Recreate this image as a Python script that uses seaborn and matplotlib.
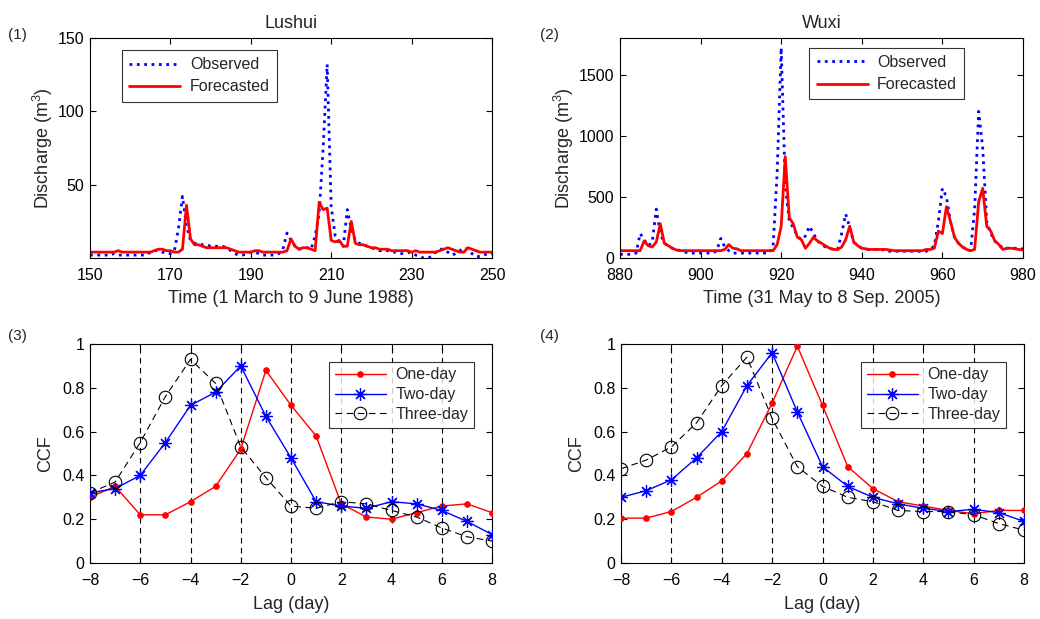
import numpy as np
import pandas as pd
import seaborn as sns
import matplotlib
matplotlib.use("Agg")
import matplotlib.pyplot as plt

# ---------------- data ----------------
lushui_days = list(range(150, 251))
lushui_obs = [2, 2, 2, 2, 2, 2, 3, 2, 2, 2,
              2, 2, 2, 2, 2, 4, 5, 5, 4, 3,
              3, 5, 20, 42, 22, 12, 10, 10, 9, 9,
              8, 8, 8, 8, 7, 5, 3, 2, 2, 3,
              4, 4, 3, 2, 2, 2, 2, 3, 6, 17,
              12, 8, 6, 7, 7, 6, 15, 30, 75, 132,
              35, 15, 10, 8, 33, 20, 12, 10, 9, 8,
              7, 6, 5, 5, 5, 4, 4, 3, 3, 4,
              3, 2, 1, 0, 0, 1, 4, 6, 6, 4,
              2, 3, 5, 7, 6, 3, 1, 1, 2, 3,
              3]
lushui_fc = [4, 4, 4, 4, 4, 4, 4, 5, 4, 4,
             4, 4, 4, 4, 4, 4, 5, 6, 6, 5,
             5, 4, 4, 6, 36, 13, 9, 9, 8, 7,
             7, 7, 7, 7, 7, 6, 5, 4, 4, 4,
             4, 5, 5, 4, 4, 4, 4, 4, 4, 5,
             13, 8, 6, 7, 7, 6, 5, 38, 33, 34,
             12, 11, 12, 8, 8, 25, 10, 9, 9, 8,
             7, 7, 6, 6, 6, 5, 5, 5, 5, 5,
             4, 5, 4, 4, 4, 4, 4, 5, 6, 7,
             6, 5, 4, 4, 7, 6, 5, 4, 4, 4,
             4]

wuxi_days = list(range(880, 981))
wuxi_obs = [30, 30, 30, 30, 40, 200, 150, 100, 130, 400,
            200, 120, 100, 80, 70, 60, 50, 40, 40, 40,
            40, 40, 40, 40, 60, 160, 90, 60, 40, 40,
            40, 40, 40, 40, 40, 40, 40, 40, 100, 700,
            1720, 600, 300, 250, 180, 150, 180, 260, 200, 140,
            110, 90, 80, 70, 70, 200, 360, 250, 130, 100,
            80, 70, 70, 70, 70, 70, 55, 55, 55, 55,
            55, 55, 55, 55, 55, 55, 55, 70, 100, 300,
            570, 500, 300, 170, 120, 90, 70, 60, 400, 1200,
            900, 300, 200, 140, 110, 80, 80, 80, 80, 75,
            75]
wuxi_fc = [60, 60, 60, 60, 60, 60, 140, 100, 90, 130,
           280, 120, 100, 80, 65, 60, 60, 60, 60, 60,
           60, 60, 60, 60, 60, 60, 70, 110, 80, 75,
           60, 60, 60, 60, 60, 60, 60, 60, 60, 110,
           260, 830, 330, 280, 170, 150, 80, 120, 170, 140,
           120, 100, 80, 70, 70, 90, 150, 260, 130, 100,
           80, 75, 70, 70, 70, 70, 70, 65, 60, 60,
           60, 60, 60, 60, 60, 60, 70, 70, 80, 220,
           200, 420, 300, 170, 120, 90, 70, 60, 70, 460,
           570, 260, 220, 140, 110, 70, 80, 80, 75, 70,
           65]

lags = list(range(-8, 9))
lushui_one = [0.30, 0.35, 0.22, 0.22, 0.28, 0.35, 0.52, 0.88, 0.72, 0.58,
              0.27, 0.21, 0.20, 0.23, 0.26, 0.27, 0.23]
lushui_two = [0.32, 0.34, 0.40, 0.55, 0.72, 0.78, 0.90, 0.67, 0.48, 0.28,
              0.26, 0.25, 0.28, 0.27, 0.24, 0.19, 0.13]
lushui_three = [0.32, 0.37, 0.55, 0.76, 0.93, 0.82, 0.53, 0.39, 0.26, 0.25,
                0.28, 0.27, 0.24, 0.21, 0.16, 0.12, 0.10]

wuxi_one = [0.205, 0.205, 0.235, 0.30, 0.375, 0.50, 0.73, 0.99, 0.72, 0.44,
            0.34, 0.28, 0.26, 0.24, 0.225, 0.24, 0.24]
wuxi_two = [0.30, 0.33, 0.38, 0.48, 0.60, 0.81, 0.96, 0.69, 0.44, 0.35,
            0.30, 0.27, 0.25, 0.235, 0.245, 0.23, 0.19]
wuxi_three = [0.43, 0.47, 0.53, 0.64, 0.81, 0.94, 0.66, 0.44, 0.35, 0.30,
              0.28, 0.24, 0.235, 0.235, 0.22, 0.18, 0.15]

vlines = [-6, -4, -2, 0, 2, 4, 6]

# ---------------- style ----------------
sns.set_style("ticks")
plt.rcParams['font.family'] = ['Liberation Sans', 'DejaVu Sans']
plt.rcParams['mathtext.fontset'] = 'custom'
plt.rcParams['mathtext.rm'] = 'Liberation Sans'
plt.rcParams['xtick.direction'] = 'in'
plt.rcParams['ytick.direction'] = 'in'
plt.rcParams['xtick.top'] = True
plt.rcParams['ytick.right'] = True

fig = plt.figure(figsize=(10.4, 6.19), dpi=100)
W, H = 1040, 619

def ax_at(l, t, r, b):
    return fig.add_axes([l / W, 1 - b / H, (r - l) / W, (b - t) / H])

ax1 = ax_at(90, 38, 492, 258)
ax2 = ax_at(620, 38, 1023, 258)
ax3 = ax_at(90, 344, 492, 563)
ax4 = ax_at(621, 344, 1024, 563)

tick_fs = 11.5
label_fs = 13

def style(ax):
    for s in ax.spines.values():
        s.set_linewidth(0.8)
        s.set_color('black')
    ax.tick_params(labelsize=tick_fs, length=4, width=0.8, colors='black')
    ax.tick_params(axis='x', pad=7)
    ax.tick_params(axis='y', pad=4)

# Discharge panels
for ax, days, obs, fc, title, xlab, ylim, yt, xt, loc in [
    (ax1, lushui_days, lushui_obs, lushui_fc, 'Lushui', 'Time (1 March to 9 June 1988)',
     (0, 150), [50, 100, 150], [150, 170, 190, 210, 230, 250], (0.06, 0.675)),
    (ax2, wuxi_days, wuxi_obs, wuxi_fc, 'Wuxi', 'Time (31 May to 8 Sep. 2005)',
     (0, 1800), [0, 500, 1000, 1500], [880, 900, 920, 940, 960, 980], (0.45, 0.685)),
]:
    df = pd.DataFrame({'day': days, 'obs': obs, 'fc': fc})
    sns.lineplot(data=df, x='day', y='obs', ax=ax, color='blue', linestyle=':',
                 linewidth=2.0, label='Observed')
    sns.lineplot(data=df, x='day', y='fc', ax=ax, color='red', linestyle='-',
                 linewidth=2.0, label='Forecasted')
    ax.set_xlim(days[0], days[-1])
    ax.set_ylim(*ylim)
    ax.set_yticks(yt)
    ax.set_xticks(xt)
    ax.set_title(title, fontsize=label_fs, pad=7)
    ax.set_xlabel(xlab, fontsize=label_fs, labelpad=5)
    ax.set_ylabel('Discharge (m$^3$)', fontsize=label_fs, labelpad=2)
    leg = ax.legend(loc='lower left', bbox_to_anchor=loc, fontsize=11.5, frameon=True,
                    fancybox=False, edgecolor='black', handlelength=3.2,
                    borderpad=0.45, labelspacing=0.45, handletextpad=0.6)
    leg.get_frame().set_linewidth(0.8)
    style(ax)

# CCF panels
for ax, one, two, three in [(ax3, lushui_one, lushui_two, lushui_three),
                            (ax4, wuxi_one, wuxi_two, wuxi_three)]:
    df = pd.DataFrame({'lag': lags, 'one': one, 'two': two, 'three': three})
    for v in vlines:
        ax.axvline(v, color='black', linestyle=(0, (5, 4)), linewidth=0.8, zorder=1)
    sns.lineplot(data=df, x='lag', y='one', ax=ax, color='red', linewidth=1,
                 marker='o', markersize=4, markeredgecolor='red', label='One-day', zorder=3)
    sns.lineplot(data=df, x='lag', y='two', ax=ax, color='blue', linewidth=1,
                 marker=(8, 2, 0), markersize=9, markeredgecolor='blue',
                 markeredgewidth=0.9, label='Two-day', zorder=3)
    sns.lineplot(data=df, x='lag', y='three', ax=ax, color='black', linewidth=0.8,
                 linestyle=(0, (6, 4)), marker='o', markersize=9,
                 markerfacecolor='none', markeredgecolor='black',
                 markeredgewidth=0.8, label='Three-day', zorder=3)
    ax.set_xlim(-8, 8)
    ax.set_ylim(0, 1)
    ax.set_xticks(range(-8, 9, 2))
    ax.set_yticks([0, 0.2, 0.4, 0.6, 0.8, 1])
    ax.set_yticklabels(['0', '0.2', '0.4', '0.6', '0.8', '1'])
    ax.set_xlabel('Lag (day)', fontsize=label_fs, labelpad=6)
    ax.set_ylabel('CCF', fontsize=label_fs, labelpad=6)
    leg = ax.legend(loc='upper right', bbox_to_anchor=(0.975, 0.955), fontsize=11.5,
                    frameon=True, fancybox=False, edgecolor='black',
                    handlelength=3.2, borderpad=0.35, labelspacing=0.3,
                    handletextpad=0.6)
    leg.get_frame().set_linewidth(0.8)
    style(ax)

for txt, x, y in [('(1)', 8, 35), ('(2)', 540, 35), ('(3)', 8, 336), ('(4)', 540, 336)]:
    fig.text(x / W, 1 - y / H, txt, fontsize=11, ha='left', va='center')

fig.savefig('out.png', dpi=100)
